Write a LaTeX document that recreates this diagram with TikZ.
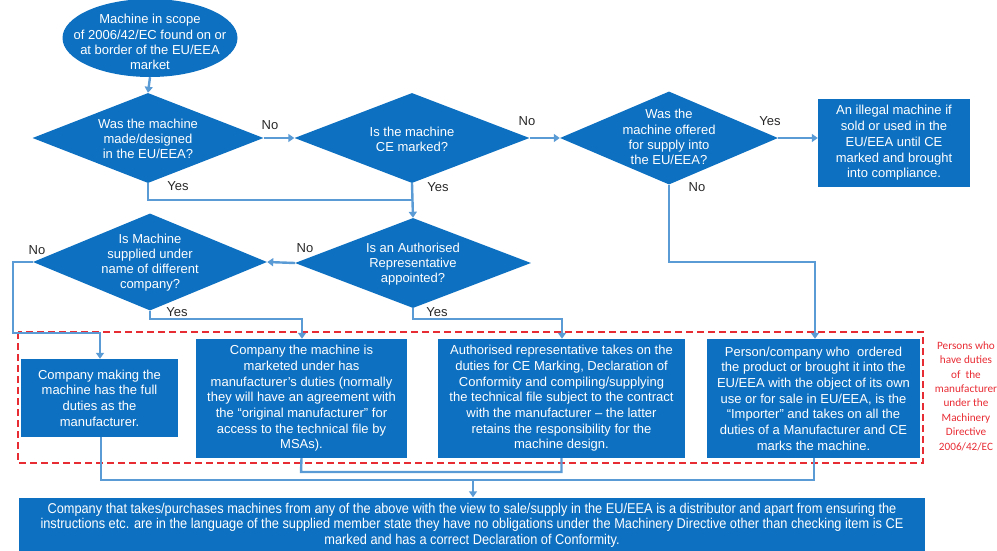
\documentclass[tikz,border=0pt]{standalone}
\usepackage{fontspec}
\setmainfont{Liberation Sans}
\newfontfamily\narrowfont[FakeStretch=0.9]{Liberation Sans}
\newfontfamily\redfont{Carlito}
\usetikzlibrary{shapes.geometric,arrows.meta}
\definecolor{fillblue}{RGB}{14,112,192}
\definecolor{linkblue}{RGB}{91,155,213}
\definecolor{dashred}{RGB}{232,44,52}
\definecolor{labelgray}{RGB}{40,40,40}
\begin{document}
\begin{tikzpicture}[x=1pt,y=-1pt,
  every node/.style={font=\fontsize{13}{15.7}\selectfont},
  dia/.style 2 args={diamond, fill=fillblue, inner sep=0pt, minimum width=#1, minimum height=#2},
  oval/.style 2 args={ellipse, fill=fillblue, inner sep=0pt, minimum width=#1, minimum height=#2},
  box/.style 2 args={rectangle, fill=fillblue, text=white, align=center, inner sep=1pt, minimum width=#1, minimum height=#2},
  wtext/.style={text=white, align=center, inner sep=0pt, font=\fontsize{13}{15.2}\selectfont},
  yn/.style={text=labelgray, inner sep=0pt, font=\fontsize{13}{15}\selectfont},
  link/.style={draw=linkblue, line width=2.4pt},
  arr/.style={link, -{Triangle[width=8pt,length=6pt]}},
  reddash/.style={draw=dashred, line width=1.5pt, dash pattern=on 7pt off 4pt}
]
\useasboundingbox (0,0) rectangle (997,551);

% shapes
\node[oval={175}{78}] (start) at (150,38) {};
\node[wtext] (startt) at (150,42) {Machine in scope\\of 2006/42/EC found on or\\at border of the EU/EEA\\market};

\node[dia={231}{90}] (d1) at (148,138) {};
\node[wtext] (d1t) at (148,139) {Was the machine\\made/designed\\in the EU/EEA?};

\node[dia={235}{90}] (d2) at (412,138) {};
\node[wtext] (d2t) at (412,139.5) {Is the machine\\CE marked?};

\node[dia={218}{93}] (d3) at (669,138) {};
\node[wtext] (d3t) at (669,137) {Was the\\machine offered\\for supply into\\the EU/EEA?};

\node[box={152}{88}] (ill) at (894,143) {An illegal machine if\\sold or used in the\\EU/EEA until CE\\marked and brought\\into compliance.};

\node[dia={236}{90}] (d4) at (413,263) {};
\node[wtext] (d4t) at (413,264) {Is an Authorised\\Representative\\appointed?};

\node[dia={234}{97}] (d5) at (150,262) {};
\node[wtext] (d5t) at (150,262.5) {Is Machine\\supplied under\\name of different\\company?};

% red dashed group
\draw[reddash] (18,332) rectangle (923,463);
\node[text=dashred, align=center, inner sep=0pt, font=\redfont\fontsize{11.2}{14.4}\selectfont] (redt) at (966,396) {Persons who\\have duties\\of\ \ the\\manufacturer\\under the\\Machinery\\Directive\\2006/42/EC};

\node[box={157}{78}] (b1) at (99.5,398) {Company making the\\machine has the full\\duties as the\\manufacturer.};
\node[box={211}{119}] (b2) at (301.5,398.5) {Company the machine is\\marketed under has\\manufacturer's duties (normally\\they will have an agreement with\\the ``original manufacturer'' for\\access to the technical file by\\MSAs).};
\node[box={247}{119}] (b3) at (561.5,398.5) {Authorised representative takes on the\\duties for CE Marking, Declaration of\\Conformity and compiling/supplying\\the technical file subject to the contract\\with the manufacturer -- the latter\\retains the responsibility for the\\machine design.};
\node[box={213}{119}] (b4) at (813.5,398.5) {Person/company who\ \ ordered\\the product or brought it into the\\EU/EEA with the object of its own\\use or for sale in EU/EEA, is the\\``Importer'' and takes on all the\\duties of a Manufacturer and CE\\marks the machine.};

\node[box={906}{55}, font=\narrowfont\fontsize{14.2}{15.5}\selectfont] (fin) at (472,525) {Company that takes/purchases machines from any of the above with the view to sale/supply in the EU/EEA is a distributor and apart from ensuring the\\instructions etc. are in the language of the supplied member state they have no obligations under the Machinery Directive other than checking item is CE\\marked and has a correct Declaration of Conformity.};

% connectors
\draw[arr] (start.south) -- (d1.north);
\draw[arr] (d1.east) -- (d2.west);
\draw[arr] (d2.east) -- (d3.west);
\draw[arr] (d3.east) -- (d3.east -| ill.west);
\draw[link] (d1.south) |- (d2.south |- 0,200);
\draw[arr] (d2.south) -- (d4.north);
\coordinate (c3) at (815,262);
\draw[arr] (d3.south) |- (c3) -- (c3 |- b4.north);
\draw[arr] (d4.west) -- (d5.east);
\coordinate (c5a) at (13,333);
\draw[arr] (d5.west) -| (c5a) -- (100,333) -- (100,333 |- b1.north);
\coordinate (c5b) at (302,319);
\draw[arr] (d5.south) |- (c5b) -- (c5b |- b2.north);
\coordinate (c4b) at (562,319);
\draw[arr] (d4.south) |- (c4b) -- (c4b |- b3.north);
\coordinate (c6) at (301,472);
\draw[link] (b2.south) -- (c6) -| (b3.south);
\coordinate (c7) at (101,480);
\draw[link] (b1.south -| c7) -- (c7) -| (b4.south -| 814,0);
\coordinate (c8) at (473,480);
\draw[arr] (c8) -- (c8 |- fin.north);

% labels
\node[yn] (l1) at (270,125) {No};
\node[yn] (l2) at (527,121) {No};
\node[yn] (l3) at (770,121) {Yes};
\node[yn] (l4) at (178,186) {Yes};
\node[yn] (l5) at (438,187) {Yes};
\node[yn] (l6) at (697,187) {No};
\node[yn] (l7) at (305,248) {No};
\node[yn] (l8) at (37,250) {No};
\node[yn] (l9) at (177,312) {Yes};
\node[yn] (l10) at (437,312) {Yes};
\end{tikzpicture}
\end{document}
